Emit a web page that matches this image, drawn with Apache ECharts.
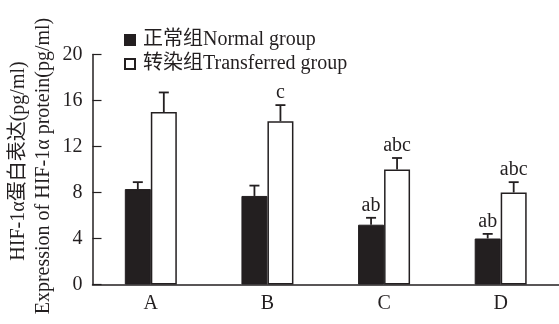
<!DOCTYPE html>
<html>
<head>
<meta charset="utf-8">
<script src="https://cdn.jsdelivr.net/npm/echarts@6/dist/echarts.min.js"></script>
<style>html,body{margin:0;padding:0;background:#fff;}#c{width:559px;height:324px;}</style>
</head>
<body>
<div id="c"></div>
<script>
var categories = ['A', 'B', 'C', 'D'];
var normal = [8.3, 7.7, 5.2, 4.0];
var normalErr = [0.6, 0.9, 0.6, 0.4];
var transferred = [15.0, 14.2, 10.0, 8.0];
var transferredErr = [1.7, 1.4, 1.0, 0.9];
var normalMarks = ['', '', 'ab', 'ab'];
var transferredMarks = ['', 'c', 'abc', 'abc'];
var yTicks = [0, 4, 8, 12, 16, 20];
var seriesNames = ['正常组Normal group', '转染组Transferred group'];
var yNameCn = 'HIF-1α蛋白表达(pg/ml)';
var yNameEn = 'Expression of HIF-1α protein(pg/ml)';

var FONT = "'Liberation Serif','Noto Sans CJK SC',serif";
var INK = '#231f20';
var BAR_W = 26;

function errData(vals, errs) {
  return vals.map(function (v, i) { return [i, v, v + errs[i]]; });
}

function errRender(offset, marks) {
  return function (params, api) {
    var i = api.value(0);
    var base = api.coord([i, api.value(1)]);
    var top = api.coord([i, api.value(2)]);
    var x = base[0] + offset;
    var capHalf = 5;
    var children = [
      { type: 'line', shape: { x1: x, y1: base[1], x2: x, y2: top[1] }, style: { stroke: INK, lineWidth: 1.8 } },
      { type: 'line', shape: { x1: x - capHalf, y1: top[1], x2: x + capHalf, y2: top[1] }, style: { stroke: INK, lineWidth: 1.8 } }
    ];
    var mark = marks[params.dataIndex];
    if (mark) {
      children.push({ type: 'text', style: { text: mark, x: x, y: top[1] - 2, textAlign: 'center', textVerticalAlign: 'bottom', fontFamily: FONT, fontSize: 20, fill: INK } });
    }
    return { type: 'group', children: children };
  };
}

var chart = echarts.init(document.getElementById('c'));
chart.setOption({
  animation: false,
  backgroundColor: '#fff',
  grid: { left: 92.5, top: 54.5, width: 467, height: 230 },
  legend: {
    orient: 'vertical', left: 119, top: 25,
    itemWidth: 10, itemHeight: 10, itemGap: 4,
    icon: 'rect',
    textStyle: { fontFamily: FONT, fontSize: 20, color: INK, lineHeight: 20, padding: [0, 0, 0, 3] },
    data: seriesNames
  },
  xAxis: {
    type: 'category', data: categories, boundaryGap: true,
    axisLine: { lineStyle: { color: INK, width: 1.5 } },
    axisTick: { inside: true, length: 8, lineStyle: { color: INK, width: 1.2 } },
    axisLabel: { fontFamily: FONT, fontSize: 20, color: INK, margin: 9 }
  },
  yAxis: {
    type: 'value', min: yTicks[0], max: yTicks[yTicks.length - 1], interval: 4,
    splitLine: { show: false },
    axisLine: { show: true, lineStyle: { color: INK, width: 1.5 } },
    axisTick: { show: true, inside: true, length: 9, lineStyle: { color: INK, width: 1.2 } },
    axisLabel: { fontFamily: FONT, fontSize: 20, color: INK, margin: 10 }
  },
  graphic: [
    { type: 'text', x: 19, y: 161, rotation: Math.PI / 2, style: { text: yNameCn, fontFamily: FONT, fontSize: 20, fill: INK, textAlign: 'center', textVerticalAlign: 'middle' } },
    { type: 'text', x: 44, y: 166, rotation: Math.PI / 2, style: { text: yNameEn, fontFamily: FONT, fontSize: 20, fill: INK, textAlign: 'center', textVerticalAlign: 'middle' } }
  ],
  series: [
    { name: seriesNames[0], type: 'bar', data: normal, barWidth: BAR_W, barGap: '0%',
      itemStyle: { color: INK, borderColor: INK, borderWidth: 1 } },
    { name: seriesNames[1], type: 'bar', data: transferred, barWidth: BAR_W, barGap: '0%',
      itemStyle: { color: '#fff', borderColor: INK, borderWidth: 1.5 } },
    { type: 'custom', data: errData(normal, normalErr), renderItem: errRender(-BAR_W / 2, normalMarks), z: 5 },
    { type: 'custom', data: errData(transferred, transferredErr), renderItem: errRender(BAR_W / 2, transferredMarks), z: 5 }
  ]
});
</script>
</body>
</html>
